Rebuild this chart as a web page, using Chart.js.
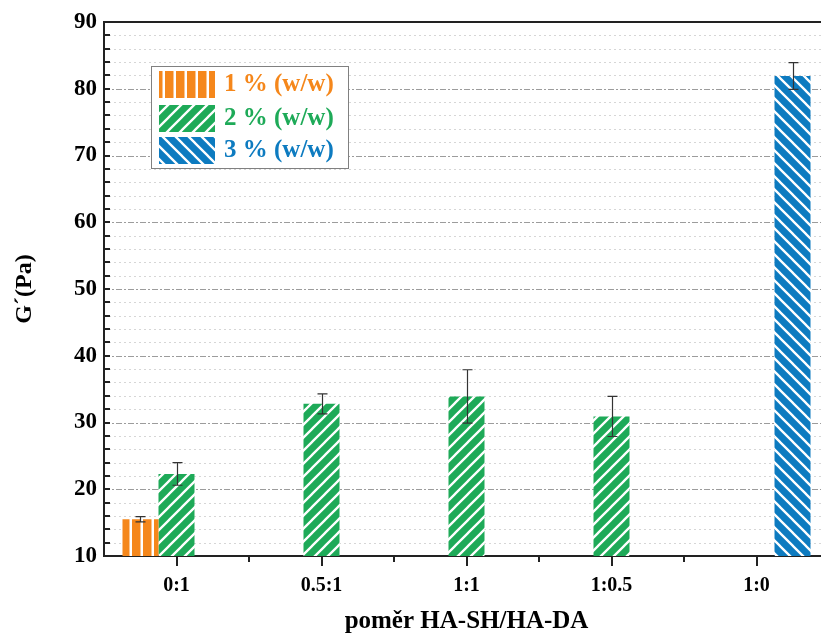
<!DOCTYPE html>
<html><head><meta charset="utf-8">
<script src="https://cdn.jsdelivr.net/npm/chart.js@4.4.0/dist/chart.umd.min.js"></script>
<style>
html,body{margin:0;padding:0;overflow:hidden;background:#fff;width:821px;height:637px}
#wrap{position:absolute;left:0;top:0;width:845px;height:637px}
</style></head><body>
<div id="wrap"><canvas id="c"></canvas></div>
<script>
// ---- data ----
const categories = ['0:1', '0.5:1', '1:1', '1:0.5', '1:0'];
const seriesNames = ['1 % (w/w)', '2 % (w/w)', '3 % (w/w)'];
const values1 = [15.5, null, null, null, null];
const errors1 = [0.4, null, null, null, null];
const values2 = [22.3, 32.8, 33.9, 30.9, null];
const errors2 = [1.7, 1.5, 4.0, 3.0, null];
const values3 = [null, null, null, null, 81.9];
const errors3 = [null, null, null, null, 2.0];
const yMin = 10, yMax = 90, yMajorStep = 10, yMinorStep = 2;
const xTitle = 'poměr HA-SH/HA-DA';
const yTitle = 'G´(Pa)';

// ---- styles ----
const colors = ['#F5871B', '#1EAA58', '#0D7BC0'];
const FONT = "'Liberation Serif', 'Times New Roman', serif";
const valueSets = [values1, values2, values3];
const errorSets = [errors1, errors2, errors3];

function makePattern(color, kind) {
  const s = kind === 'v' ? 11 : 13;
  const c = document.createElement('canvas');
  c.width = s; c.height = s;
  const g = c.getContext('2d');
  g.fillStyle = color; g.fillRect(0, 0, s, s);
  g.strokeStyle = '#fff';
  if (kind === 'v') {
    g.fillStyle = '#fff';
    g.fillRect(8.5, 0, 2.5, s);
  } else {
    g.lineWidth = 2.3;
    g.beginPath();
    if (kind === '/') {
      g.moveTo(-1, s + 1); g.lineTo(s + 1, -1);
      g.moveTo(-s / 2 - 1, s / 2 + 1); g.lineTo(s / 2 + 1, -s / 2 - 1);
      g.moveTo(s / 2 - 1, 1.5 * s + 1); g.lineTo(1.5 * s + 1, s / 2 - 1);
    } else {
      g.moveTo(-1, -1); g.lineTo(s + 1, s + 1);
      g.moveTo(-s / 2 - 1, s / 2 - 1); g.lineTo(s / 2 + 1, 1.5 * s + 1);
      g.moveTo(s / 2 - 1, -s / 2 - 1); g.lineTo(1.5 * s + 1, s / 2 + 1);
    }
    g.stroke();
  }
  return document.getElementById('c').getContext('2d').createPattern(c, 'repeat');
}
const patterns = [makePattern(colors[0], 'v'), makePattern(colors[1], '/'), makePattern(colors[2], '\\')];

const gridPlugin = {
  id: 'gridPlugin',
  beforeDatasetsDraw(chart) {
    const { ctx, chartArea: a, scales: { y } } = chart;
    ctx.save();
    ctx.lineWidth = 1;
    for (let v = yMin + yMinorStep; v < yMax; v += yMinorStep) {
      const py = Math.round(y.getPixelForValue(v)) + 0.5;
      const major = v % yMajorStep === 0;
      ctx.strokeStyle = major ? '#9c9c9c' : '#d6d6d6';
      ctx.setLineDash(major ? [6, 2, 2, 2] : [2, 3]);
      ctx.beginPath(); ctx.moveTo(a.left, py); ctx.lineTo(a.right, py); ctx.stroke();
    }
    ctx.restore();
  },
  afterDatasetsDraw(chart) {
    const { ctx, scales: { y } } = chart;
    ctx.save();
    ctx.strokeStyle = '#333'; ctx.lineWidth = 1.2;
    valueSets.forEach((vals, i) => {
      const meta = chart.getDatasetMeta(i);
      meta.data.forEach((el, j) => {
        const v = vals[j], e = errorSets[i][j];
        if (v == null || e == null) return;
        const x = Math.round(el.x) + 0.5;
        const y1 = y.getPixelForValue(v + e), y2 = y.getPixelForValue(v - e);
        ctx.beginPath();
        ctx.moveTo(x, y1); ctx.lineTo(x, y2);
        ctx.moveTo(x - 5, y1); ctx.lineTo(x + 5, y1);
        ctx.moveTo(x - 5, y2); ctx.lineTo(x + 5, y2);
        ctx.stroke();
      });
    });
    ctx.restore();
  },
  afterDraw(chart) {
    const { ctx, chartArea: a, scales: { x, y } } = chart;
    ctx.save();
    ctx.strokeStyle = '#222';
    // top border
    ctx.lineWidth = 2;
    ctx.beginPath(); ctx.moveTo(a.left - 1, a.top); ctx.lineTo(a.right, a.top); ctx.stroke();
    // y ticks (inward)
    for (let v = yMin; v <= yMax; v += yMinorStep) {
      const py = Math.round(y.getPixelForValue(v));
      ctx.beginPath(); ctx.moveTo(a.left, py); ctx.lineTo(a.left + 6, py); ctx.stroke();
    }
    // x ticks (outward)
    for (let i = 0; i < categories.length; i++) {
      const px = Math.round(x.getPixelForValue(i));
      ctx.beginPath(); ctx.moveTo(px, a.bottom); ctx.lineTo(px, a.bottom + 10); ctx.stroke();
      if (i < categories.length - 1) {
        const pm = Math.round((x.getPixelForValue(i) + x.getPixelForValue(i + 1)) / 2);
        ctx.beginPath(); ctx.moveTo(pm, a.bottom); ctx.lineTo(pm, a.bottom + 6); ctx.stroke();
      }
    }
    // legend
    const bx = a.left + 47, by = a.top + 44, bw = 197, bh = 102;
    ctx.lineWidth = 1; ctx.strokeStyle = '#808080';
    ctx.fillStyle = '#fff';
    ctx.fillRect(bx, by, bw, bh);
    ctx.strokeRect(bx + 0.5, by + 0.5, bw, bh);
    const rows = [by + 5, by + 39, by + 71];
    ctx.font = "bold 25px " + FONT;
    ctx.textBaseline = 'middle'; ctx.textAlign = 'left';
    seriesNames.forEach((name, i) => {
      ctx.fillStyle = patterns[i];
      ctx.fillRect(bx + 8, rows[i], 56, 27);
      ctx.fillStyle = colors[i];
      ctx.fillText(name, bx + 73, rows[i] + 14);
    });
    ctx.restore();
  }
};

new Chart(document.getElementById('c'), {
  type: 'bar',
  data: {
    labels: categories,
    datasets: seriesNames.map((n, i) => ({
      label: n, data: valueSets[i], backgroundColor: patterns[i], borderWidth: 0
    }))
  },
  options: {
    responsive: true, maintainAspectRatio: false, animation: false, devicePixelRatio: 1,
    layout: { padding: { top: 22, right: 16, left: 0, bottom: 0 } },
    datasets: { bar: { categoryPercentage: 0.745, barPercentage: 1 } },
    plugins: { legend: { display: false }, tooltip: { enabled: false } },
    scales: {
      x: {
        grid: { display: false, drawTicks: false },
        border: { display: true, color: '#222', width: 2 },
        ticks: { color: '#000', padding: 18, maxRotation: 0, font: { family: FONT, weight: 'bold', size: 20 } },
        title: { display: true, text: xTitle, color: '#000', padding: { top: 0, bottom: 0 }, font: { family: FONT, weight: 'bold', size: 25 } },
        afterFit(s) { s.height = 81; }
      },
      y: {
        min: yMin, max: yMax,
        grid: { display: false, drawTicks: false },
        border: { display: true, color: '#222', width: 2 },
        ticks: { stepSize: yMajorStep, color: '#000', padding: 7, font: { family: FONT, weight: 'bold', size: 23 } },
        title: { display: true, text: yTitle, color: '#000', padding: { top: 10, bottom: 0 }, font: { family: FONT, weight: 'bold', size: 24 } },
        afterFit(s) { s.width = 104; }
      }
    }
  },
  plugins: [gridPlugin]
});
</script>
</body></html>
